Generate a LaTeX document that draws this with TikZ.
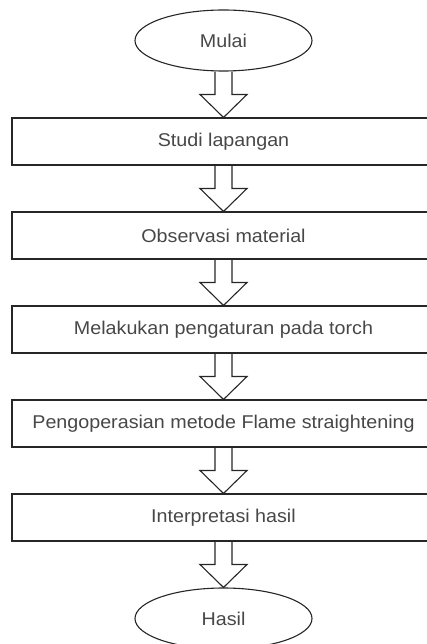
\documentclass[tikz,border=0pt]{standalone}
\usepackage{fontspec}
\setmainfont{Liberation Sans}[FakeStretch=1.065]
\usetikzlibrary{shapes.geometric,calc}
\tikzset{
  base/.style={draw=black!85, line width=1.1pt, text=black!72, font=\fontsize{18.5}{22}\selectfont, inner sep=0pt},
  term/.style={base, ellipse, minimum width=177pt, minimum height=61pt},
  proc/.style={base, rectangle, minimum width=423pt, minimum height=47pt},
  blockarrow/.style={draw=black!85, line width=1.1pt, line join=miter,
    to path={let \p1=(\tikztostart), \p2=(\tikztotarget), \n1={0.5*(\y1+\y2)} in
      (\x1-8.5,\y1) -- (\x1-8.5,\n1) -- (\x1-23.5,\n1) -- (\x2,\y2) -- (\x1+23.5,\n1) -- (\x1+8.5,\n1) -- (\x1+8.5,\y1)}}
}
\begin{document}
\begin{tikzpicture}[x=1pt,y=1pt]
\useasboundingbox (0,0) rectangle (427,-644);
\clip (0,0) rectangle (427,-644);
\node[term] (start) at (223.5,-40.5) {Mulai};
\node[proc] (b1) at (223.5,-141.5) {Studi lapangan};
\node[proc] (b2) at (223.5,-235.5) {Observasi material};
\node[proc] (b3) at (223.5,-329.5) {Melakukan pengaturan pada torch};
\node[proc] (b4) at (223.5,-423.5) {Pengoperasian metode Flame straightening};
\node[proc] (b5) at (223.5,-517.5) {Interpretasi hasil};
\node[term] (end) at (223.5,-618.5) {Hasil};
\draw[blockarrow] (start.south) to (b1.north);
\draw[blockarrow] (b1.south) to (b2.north);
\draw[blockarrow] (b2.south) to (b3.north);
\draw[blockarrow] (b3.south) to (b4.north);
\draw[blockarrow] (b4.south) to (b5.north);
\draw[blockarrow] (b5.south) to (end.north);
\end{tikzpicture}
\end{document}
